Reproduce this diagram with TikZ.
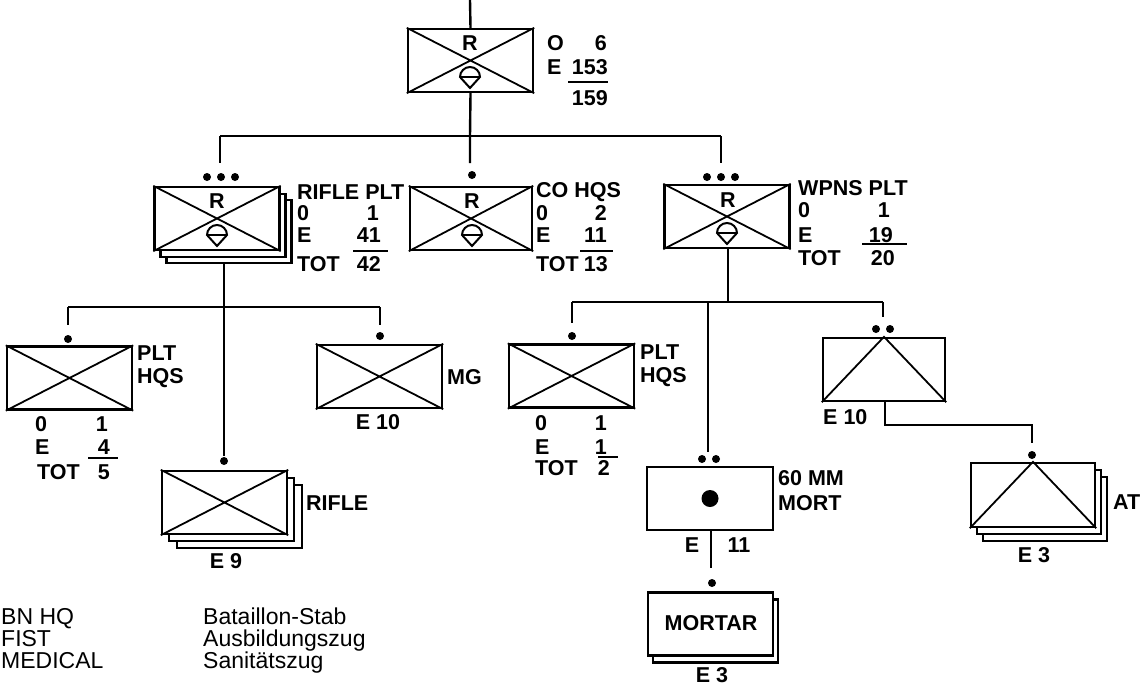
\documentclass[tikz,border=0pt]{standalone}
\usepackage{fontspec}
\setmainfont{Liberation Sans}
\newfontfamily\lblfont{Liberation Sans}
\begin{document}
\begin{tikzpicture}[x=1pt,y=-1pt,
 unit/.style={draw, line width=2.4pt, fill=white, inner sep=0pt, minimum width=125pt, minimum height=63pt},
 xl/.style={line width=1.8pt},
 con/.style={line width=2.4pt},
 dot/.style={circle, fill, inner sep=0pt, minimum size=8pt},
 lbl/.style={font=\lblfont\bfseries\fontsize{21.5}{23}\selectfont, inner sep=0pt},
 leg/.style={font=\fontsize{23}{25}\selectfont, inner sep=0pt, anchor=base west},
 chute/.pic={\draw[line width=2pt, fill=white] (-10pt,0pt) arc (180:0:10pt) -- (0pt,-11pt) -- cycle;
             \draw[line width=2pt] (-10pt,0pt) -- (10pt,0pt);}
]
\useasboundingbox (0,0) rectangle (1144,686);

% ---------- top unit ----------
\node[unit] (top) at (470.5,60.5) {};
\draw[xl] (top.north west) -- (top.south east) (top.north east) -- (top.south west);
\node[lbl] (topR) at (470,43) {R};
\pic at (470,77) {chute};
\node[lbl, anchor=west] (t1) at (547,43) {O};
\node[lbl, anchor=east] (t2) at (607,43) {6};
\node[lbl, anchor=west] (t3) at (547,67) {E};
\node[lbl, anchor=east] (t4) at (608,67) {153};
\draw[con] (568,82) -- (608,82);
\node[lbl, anchor=east] (t5) at (608,98) {159};

% ---------- level 1 connectors ----------
\coordinate (top0) at (470,0);
\coordinate (b1) at (470,136);
\coordinate (b1L) at (220,136);
\coordinate (b1R) at (721,136);
\coordinate (e1L) at (220,163);
\coordinate (e1M) at (470,163);
\coordinate (e1R) at (721,163);
\draw[con] (top0) -- (top.north);
\draw[con] (top.south) -- (b1) -- (e1M);
\draw[con] (b1L) -- (b1R);
\draw[con] (b1L) -- (e1L);
\draw[con] (b1R) -- (e1R);

% ---------- RIFLE PLT ----------
\node[unit] (rplt3) at (229,231.5) {};
\node[unit] (rplt2) at (223,225.5) {};
\node[unit] (rplt) at (217,218.5) {};
\draw[xl] (rplt.north west) -- (rplt.south east) (rplt.north east) -- (rplt.south west);
\node[lbl] (rpR) at (217,201) {R};
\pic at (217,235) {chute};
\node[dot] (rd1) at (207,177) {};
\node[dot] (rd2) at (221,177) {};
\node[dot] (rd3) at (235,177) {};
\node[lbl, anchor=west] (rp1) at (297,192) {RIFLE PLT};
\node[lbl, anchor=west] (rp2) at (297,213) {0};
\node[lbl, anchor=east] (rp3) at (379,213) {1};
\node[lbl, anchor=west] (rp4) at (297,235) {E};
\node[lbl, anchor=east] (rp5) at (381,235) {41};
\draw[con] (353,251) -- (388,251);
\node[lbl, anchor=west] (rp6) at (297,264) {TOT};
\node[lbl, anchor=east] (rp7) at (381,264) {42};

% ---------- CO HQS ----------
\node[unit, minimum width=122pt] (cohq) at (471,218.5) {};
\draw[xl] (cohq.north west) -- (cohq.south east) (cohq.north east) -- (cohq.south west);
\node[lbl] (coR) at (472,201) {R};
\pic at (472,235) {chute};
\node[dot] (cd1) at (472,175) {};
\node[lbl, anchor=west] (co1) at (536,192) {CO HQS};
\node[lbl, anchor=west] (co2) at (536,213) {0};
\node[lbl, anchor=east] (co3) at (607,213) {2};
\node[lbl, anchor=west] (co4) at (536,235) {E};
\node[lbl, anchor=east] (co5) at (607,235) {11};
\draw[con] (580,251) -- (613,251);
\node[lbl, anchor=west] (co6) at (536,264) {TOT};
\node[lbl, anchor=east] (co7) at (608,264) {13};

% ---------- WPNS PLT ----------
\node[unit] (wplt) at (727,216.5) {};
\draw[xl] (wplt.north west) -- (wplt.south east) (wplt.north east) -- (wplt.south west);
\node[lbl] (wpR) at (728,200) {R};
\pic at (727,233) {chute};
\node[dot] (wd1) at (707,177) {};
\node[dot] (wd2) at (721,177) {};
\node[dot] (wd3) at (735,177) {};
\node[lbl, anchor=west] (wp1) at (798,188) {WPNS PLT};
\node[lbl, anchor=west] (wp2) at (798,210) {0};
\node[lbl, anchor=east] (wp3) at (890,210) {1};
\node[lbl, anchor=west] (wp4) at (798,235) {E};
\node[lbl, anchor=east] (wp5) at (893,235) {19};
\draw[con] (862,244) -- (907,244);
\node[lbl, anchor=west] (wp6) at (798,258) {TOT};
\node[lbl, anchor=east] (wp7) at (895,258) {20};

% ---------- left subtree connectors ----------
\coordinate (r0) at (224,263);
\coordinate (r1) at (224,456);
\coordinate (b2L) at (68,307);
\coordinate (b2R) at (380,307);
\coordinate (e2L) at (68,325);
\coordinate (e2R) at (380,325);
\draw[con] (r0) -- (r1);
\draw[con] (b2L) -- (b2R);
\draw[con] (b2L) -- (e2L);
\draw[con] (b2R) -- (e2R);
\node[dot] (ld1) at (68,339) {};
\node[dot] (md1) at (380,336) {};
\node[dot] (fd1) at (224,461) {};

% left PLT HQS
\node[unit] (lphq) at (69.5,378) {};
\draw[xl] (lphq.north west) -- (lphq.south east) (lphq.north east) -- (lphq.south west);
\node[lbl, anchor=west] (lh1) at (137,353) {PLT};
\node[lbl, anchor=west] (lh2) at (137,378) {HQS};
\node[lbl, anchor=west] (lh3) at (35,424) {0};
\node[lbl, anchor=east] (lh4) at (108,424) {1};
\node[lbl, anchor=west] (lh5) at (35,447) {E};
\node[lbl, anchor=east] (lh6) at (110,447) {4};
\draw[con] (88,458) -- (118,458);
\node[lbl, anchor=west] (lh7) at (37,472) {TOT};
\node[lbl, anchor=east] (lh8) at (110,472) {5};

% MG
\node[unit] (mg) at (379.5,376.5) {};
\draw[xl] (mg.north west) -- (mg.south east) (mg.north east) -- (mg.south west);
\node[lbl, anchor=west] (mg1) at (447,377) {MG};
\node[lbl] (mg2) at (378,422) {E 10};

% RIFLE
\node[unit] (rifle3) at (239.5,516.5) {};
\node[unit] (rifle2) at (231.5,509.5) {};
\node[unit] (rifle) at (224.5,502.5) {};
\draw[xl] (rifle.north west) -- (rifle.south east) (rifle.north east) -- (rifle.south west);
\node[lbl, anchor=west] (rf1) at (306,503) {RIFLE};
\node[lbl] (rf2) at (226,561) {E 9};

% ---------- right subtree connectors ----------
\coordinate (w0) at (728,248);
\coordinate (b3) at (728,302);
\coordinate (b3L) at (572,302);
\coordinate (b3M) at (708,302);
\coordinate (b3R) at (883,302);
\coordinate (e3L) at (572,323);
\coordinate (e3M) at (708,452);
\coordinate (e3R) at (883,317);
\draw[con] (w0) -- (b3);
\draw[con] (b3L) -- (b3R);
\draw[con] (b3L) -- (e3L);
\draw[con] (b3M) -- (e3M);
\draw[con] (b3R) -- (e3R);
\node[dot] (rd4) at (572,336) {};
\node[dot] (ad1) at (876,329) {};
\node[dot] (ad2) at (890,329) {};
\node[dot] (od1) at (702,459) {};
\node[dot] (od2) at (716,459) {};

% right PLT HQS
\node[unit] (rphq) at (571.5,376) {};
\draw[xl] (rphq.north west) -- (rphq.south east) (rphq.north east) -- (rphq.south west);
\node[lbl, anchor=west] (rh1) at (640,352) {PLT};
\node[lbl, anchor=west] (rh2) at (640,377) {HQS};
\node[lbl, anchor=west] (rh3) at (535,423) {0};
\node[lbl, anchor=east] (rh4) at (607,423) {1};
\node[lbl, anchor=west] (rh5) at (535,447) {E};
\node[lbl, anchor=east] (rh6) at (607,447) {1};
\draw[con] (598,457) -- (618,457);
\node[lbl, anchor=west] (rh7) at (535,468) {TOT};
\node[lbl, anchor=east] (rh8) at (610,468) {2};

% AT group
\node[unit, minimum width=122pt] (atg) at (884,369.5) {};
\draw[xl] (atg.south west) -- (atg.north) -- (atg.south east);
\node[lbl, anchor=west] (ag1) at (823,417) {E 10};
\coordinate (a0) at (885,401);
\coordinate (a1) at (885,425);
\coordinate (a2) at (1032,425);
\coordinate (a3) at (1032,443);
\draw[con] (a0) -- (a1) -- (a2) -- (a3);
\node[dot] (atd) at (1032,455) {};

% AT
\node[unit, minimum width=124pt, minimum height=64pt] (at3) at (1045,509) {};
\node[unit, minimum width=124pt, minimum height=64pt] (at2) at (1039,502) {};
\node[unit, minimum width=124pt, minimum height=64pt] (at) at (1033,495) {};
\draw[xl] (at.south west) -- (at.north) -- (at.south east);
\node[lbl, anchor=west] (at1) at (1113,502) {AT};
\node[lbl] (at4) at (1034,555) {E 3};

% 60 MM MORT
\node[unit, minimum width=126pt] (mort) at (710,498.5) {};
\node[circle, fill, inner sep=0pt, minimum size=17pt] (mdot) at (mort.center) {};
\node[lbl, anchor=west] (mo1) at (778,478) {60 MM};
\node[lbl, anchor=west] (mo2) at (778,503) {MORT};
\coordinate (m0) at (711,530);
\coordinate (m1) at (711,568);
\draw[con] (m0) -- (m1);
\node[lbl] (mo3) at (692,545) {E};
\node[lbl] (mo4) at (739,545) {11};
\node[dot] (mtd) at (712,583) {};

% MORTAR
\node[unit] (mortar2) at (715.5,631) {};
\node[unit] (mortar) at (710.5,624) {};
\node[lbl] (mr1) at (711,623) {MORTAR};
\node[lbl] (mr2) at (712,675) {E 3};

% ---------- legend ----------
\node[leg] (g1) at (1,624) {BN HQ};
\node[leg] (g2) at (1,646) {FIST};
\node[leg] (g3) at (1,668) {MEDICAL};
\node[leg] (h1) at (203,624) {Bataillon-Stab};
\node[leg] (h2) at (203,646) {Ausbildungszug};
\node[leg] (h3) at (203,668) {Sanitätszug};
\end{tikzpicture}
\end{document}
